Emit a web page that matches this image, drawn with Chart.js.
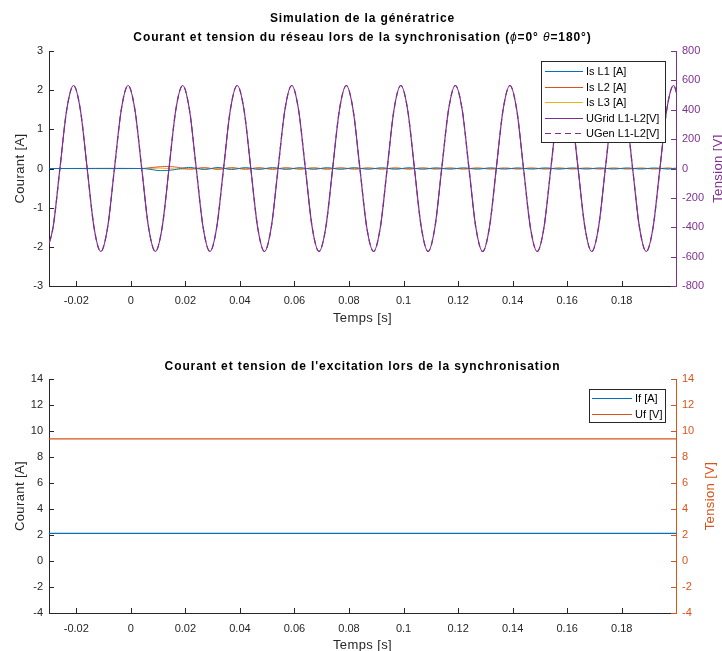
<!DOCTYPE html>
<html>
<head>
<meta charset="utf-8">
<script src="https://cdn.jsdelivr.net/npm/chart.js@4.4.0/dist/chart.umd.min.js"></script>
<style>
  html, body { margin: 0; padding: 0; background: #fff; }
  #wrap { position: relative; width: 722px; height: 651px; overflow: hidden; background: #fff; }
  canvas { position: absolute; left: 0; }
  #top { top: 0; }
  #bottom { top: 340px; }
</style>
</head>
<body>
<div id="wrap">
  <canvas id="top" width="722" height="340"></canvas>
  <canvas id="bottom" width="722" height="311"></canvas>
</div>
<script>
// ---- Grid voltage L1-L2 (V), sampled every 1/8 period ----
const voltTime = [
  -0.031, -0.0285, -0.026, -0.0235, -0.021, -0.0185, -0.016, -0.0135,
  -0.011, -0.0085, -0.006, -0.0035, -0.001, 0.0015, 0.004, 0.0065,
  0.009, 0.0115, 0.014, 0.0165, 0.019, 0.0215, 0.024, 0.0265,
  0.029, 0.0315, 0.034, 0.0365, 0.039, 0.0415, 0.044, 0.0465,
  0.049, 0.0515, 0.054, 0.0565, 0.059, 0.0615, 0.064, 0.0665,
  0.069, 0.0715, 0.074, 0.0765, 0.079, 0.0815, 0.084, 0.0865,
  0.089, 0.0915, 0.094, 0.0965, 0.099, 0.1015, 0.104, 0.1065,
  0.109, 0.1115, 0.114, 0.1165, 0.119, 0.1215, 0.124, 0.1265,
  0.129, 0.1315, 0.134, 0.1365, 0.139, 0.1415, 0.144, 0.1465,
  0.149, 0.1515, 0.154, 0.1565, 0.159, 0.1615, 0.164, 0.1665,
  0.169, 0.1715, 0.174, 0.1765, 0.179, 0.1815, 0.184, 0.1865,
  0.189, 0.1915, 0.194, 0.1965, 0.199, 0.2015
];
const uGrid = [
  -565, -400, 0, 400, 565, 400, 0, -400,
  -565, -400, 0, 400, 565, 400, 0, -400,
  -565, -400, 0, 400, 565, 400, 0, -400,
  -565, -400, 0, 400, 565, 400, 0, -400,
  -565, -400, 0, 400, 565, 400, 0, -400,
  -565, -400, 0, 400, 565, 400, 0, -400,
  -565, -400, 0, 400, 565, 400, 0, -400,
  -565, -400, 0, 400, 565, 400, 0, -400,
  -565, -400, 0, 400, 565, 400, 0, -400,
  -565, -400, 0, 400, 565, 400, 0, -400,
  -565, -400, 0, 400, 565, 400, 0, -400,
  -565, -400, 0, 400, 565, 400
];
// Generator voltage L1-L2 (V), superposed on the grid voltage
const uGen = [
  -565, -400, 0, 400, 565, 400, 0, -400,
  -565, -400, 0, 400, 565, 400, 0, -400,
  -565, -400, 0, 400, 565, 400, 0, -400,
  -565, -400, 0, 400, 565, 400, 0, -400,
  -565, -400, 0, 400, 565, 400, 0, -400,
  -565, -400, 0, 400, 565, 400, 0, -400,
  -565, -400, 0, 400, 565, 400, 0, -400,
  -565, -400, 0, 400, 565, 400, 0, -400,
  -565, -400, 0, 400, 565, 400, 0, -400,
  -565, -400, 0, 400, 565, 400, 0, -400,
  -565, -400, 0, 400, 565, 400, 0, -400,
  -565, -400, 0, 400, 565, 400
];

// ---- Stator currents (A) ----
const curTime = [
  -0.03, 0.004, 0.007, 0.010, 0.013, 0.016, 0.019, 0.022, 0.027, 0.032,
  0.037, 0.042, 0.047, 0.052, 0.057, 0.062, 0.067, 0.072, 0.077, 0.082,
  0.087, 0.092, 0.097, 0.102, 0.107, 0.112, 0.117, 0.122, 0.127, 0.132,
  0.137, 0.142, 0.147, 0.152, 0.157, 0.162, 0.167, 0.172, 0.177, 0.182,
  0.187, 0.192, 0.197, 0.2
];
const isL1 = [
  0, 0, -0.02, -0.05, -0.05, -0.03, 0.01, 0.025, -0.025, 0.025,
  -0.025, 0.022, -0.022, 0.022, -0.022, 0.02, -0.02, 0.02, -0.02, 0.02,
  -0.018, 0.018, -0.018, 0.018, -0.018, 0.016, -0.016, 0.016, -0.016, 0.016,
  -0.015, 0.015, -0.015, 0.015, -0.015, 0.014, -0.014, 0.014, -0.014, 0.014,
  -0.013, 0.013, -0.013, 0.012
];
const isL2 = [
  0, 0, 0.02, 0.04, 0.05, 0.04, 0.01, -0.015, 0.022, -0.022,
  0.022, -0.02, 0.02, -0.02, 0.02, -0.018, 0.018, -0.018, 0.018, -0.016,
  0.016, -0.016, 0.016, -0.016, 0.016, -0.015, 0.015, -0.015, 0.015, -0.015,
  0.014, -0.014, 0.014, -0.014, 0.014, -0.013, 0.013, -0.013, 0.013, -0.013,
  0.012, -0.012, 0.012, -0.012
];
const isL3 = [
  0, 0, 0, 0.01, 0, -0.01, -0.02, -0.01, 0.003, -0.003,
  0.003, -0.002, 0.002, -0.002, 0.002, -0.002, 0.002, -0.002, 0.002, -0.004,
  0.002, -0.002, 0.002, -0.002, 0.002, -0.001, 0.001, -0.001, 0.001, -0.001,
  0.001, -0.001, 0.001, -0.001, 0.001, -0.001, 0.001, -0.001, 0.001, -0.001,
  0.001, -0.001, 0.001, 0
];

// ---- Excitation (field) current and voltage ----
const excTime = [-0.03, 0.2];
const ifVals = [2.13, 2.13];
const ufVals = [9.4, 9.4];

// ---- Axis limits ----
const timeLimits = [-0.03, 0.1999];
const currentLimitsTop = [-3, 3];
const voltageLimitsTop = [-800, 800];
const limitsBottom = [-4, 14];

const FONT = "'Liberation Sans', Arial, Helvetica, sans-serif";
const TXT = '#262626';
const BLUE = '#0072BD', ORANGE = '#D95319', YELLOW = '#EDB120', PURPLE = '#7E2F8E';

Chart.defaults.font.family = FONT;
Chart.defaults.font.size = 11;
Chart.defaults.color = TXT;

const pts = (xs, ys) => xs.map((x, i) => ({ x, y: ys[i] }));
const fmtTime = v => { const r = Math.round(v * 100) / 100; return r === 0 ? '0' : String(r); };

// Titles, axis titles, inward tick marks and a boxed legend
const decor = {
  id: 'decor',
  afterDatasetsDraw(chart) {
    const ctx = chart.ctx, a = chart.chartArea;
    ctx.save();
    Object.values(chart.scales).forEach(s => {
      ctx.strokeStyle = s.options.border.color; ctx.lineWidth = 1;
      ctx.beginPath();
      s.ticks.forEach(t => {
        const p = Math.round(s.getPixelForValue(t.value)) + 0.5;
        if (s.axis === 'x') { ctx.moveTo(p, a.bottom); ctx.lineTo(p, a.bottom - 5); }
        else if (s.position === 'left') { ctx.moveTo(a.left, p); ctx.lineTo(a.left + 5, p); }
        else { ctx.moveTo(a.right, p); ctx.lineTo(a.right - 5, p); }
      });
      ctx.stroke();
    });
    ctx.restore();
  },
  afterDraw(chart, args, o) {
    const ctx = chart.ctx, a = chart.chartArea;
    const cx = (a.left + a.right) / 2, cy = (a.top + a.bottom) / 2;
    ctx.save();
    ctx.textBaseline = 'middle';
    // titles (segments allow italic Greek symbols)
    ctx.letterSpacing = '0.9px';
    (o.titles || []).forEach(line => {
      let w = 0;
      line.parts.forEach(p => { ctx.font = p.font; w += ctx.measureText(p.t).width; });
      let x = cx - w / 2;
      ctx.fillStyle = '#000'; ctx.textAlign = 'left';
      line.parts.forEach(p => { ctx.font = p.font; ctx.fillText(p.t, x, line.y); x += ctx.measureText(p.t).width; });
    });
    // axis titles
    ctx.letterSpacing = '0.4px';
    ctx.font = '13px ' + FONT;
    ctx.textAlign = 'center';
    if (o.xTitle) { ctx.fillStyle = TXT; ctx.fillText(o.xTitle.text, cx, o.xTitle.y); }
    [o.leftTitle, o.rightTitle].forEach(t => {
      if (!t) return;
      ctx.save();
      ctx.translate(t.x, cy);
      ctx.rotate(-Math.PI / 2);
      ctx.fillStyle = t.color;
      ctx.fillText(t.text, 0, 0);
      ctx.restore();
    });
    ctx.letterSpacing = '0px';
    // legend
    const L = o.legend;
    if (L) {
      ctx.fillStyle = '#fff';
      ctx.fillRect(L.x, L.y, L.w, L.h);
      ctx.strokeStyle = TXT; ctx.lineWidth = 1;
      ctx.strokeRect(L.x + 0.5, L.y + 0.5, L.w, L.h);
      ctx.font = '11px ' + FONT;
      ctx.textAlign = 'left';
      chart.data.datasets.forEach((ds, i) => {
        const y = Math.round(L.y + L.first + i * L.rowH) + 0.5;
        ctx.strokeStyle = ds.borderColor;
        ctx.lineWidth = 1;
        ctx.setLineDash(ds.borderDash || []);
        ctx.beginPath(); ctx.moveTo(L.x + L.lineFrom, y); ctx.lineTo(L.x + L.lineTo, y); ctx.stroke();
        ctx.setLineDash([]);
        ctx.fillStyle = '#000';
        ctx.fillText(ds.label, L.x + L.lineTo + 3, y);
      });
    }
    ctx.restore();
  }
};

function axis(pos, lim, step, color, width) {
  return {
    type: 'linear', position: pos, min: lim[0], max: lim[1],
    grid: { display: false, drawTicks: false },
    border: { display: true, color: color, width: 1 },
    ticks: { stepSize: step, padding: 6, color: color, font: { size: 11 } },
    afterFit: s => { s.width = width; }
  };
}
function timeAxis(height, pad) {
  return {
    type: 'linear', position: 'bottom', min: timeLimits[0], max: timeLimits[1],
    grid: { display: false, drawTicks: false },
    border: { display: true, color: TXT, width: 1 },
    ticks: { stepSize: 0.02, includeBounds: false, padding: pad, color: TXT, callback: fmtTime },
    afterFit: s => { s.height = height; }
  };
}

// ---- Top chart: grid currents and voltages ----
new Chart(document.getElementById('top'), {
  type: 'line',
  data: {
    datasets: [
      { label: 'Is L1 [A]', data: pts(curTime, isL1), yAxisID: 'y', borderColor: BLUE, borderWidth: 1, tension: 0.4, order: 2 },
      { label: 'Is L2 [A]', data: pts(curTime, isL2), yAxisID: 'y', borderColor: ORANGE, borderWidth: 1, tension: 0.4, order: 3 },
      { label: 'Is L3 [A]', data: pts(curTime, isL3), yAxisID: 'y', borderColor: YELLOW, borderWidth: 1, tension: 0.4, order: 4 },
      { label: 'UGrid L1-L2[V]', data: pts(voltTime, uGrid), yAxisID: 'y1', borderColor: PURPLE, borderWidth: 1.2, cubicInterpolationMode: 'monotone', order: 0 },
      { label: 'UGen L1-L2[V]', data: pts(voltTime, uGen), yAxisID: 'y1', borderColor: PURPLE, borderWidth: 1.2, borderDash: [6, 4], cubicInterpolationMode: 'monotone', order: 1 }
    ]
  },
  options: {
    responsive: false, animation: false, devicePixelRatio: 1,
    elements: { point: { radius: 0 } },
    layout: { padding: { top: 51, left: 0, right: 0, bottom: 0 } },
    plugins: {
      legend: { display: false }, tooltip: { enabled: false },
      decor: {
        titles: [
          { y: 19, parts: [{ t: 'Simulation de la génératrice', font: 'bold 12px ' + FONT }] },
          { y: 38, parts: [
            { t: 'Courant et tension du réseau lors de la synchronisation (', font: 'bold 12px ' + FONT },
            { t: 'ϕ', font: 'italic 12px ' + FONT },
            { t: '=0° ', font: 'bold 12px ' + FONT },
            { t: 'θ', font: 'italic 12px ' + FONT },
            { t: '=180°)', font: 'bold 12px ' + FONT }
          ] }
        ],
        xTitle: { text: 'Temps [s]', y: 318 },
        leftTitle: { text: 'Courant [A]', x: 20, color: TXT },
        rightTitle: { text: 'Tension [V]', x: 718, color: PURPLE },
        legend: { x: 541, y: 61, w: 124, h: 81, first: 10, rowH: 15.6, lineFrom: 4, lineTo: 42 }
      }
    },
    scales: {
      x: timeAxis(54, 8),
      y: axis('left', currentLimitsTop, 1, TXT, 49),
      y1: axis('right', voltageLimitsTop, 200, PURPLE, 46)
    }
  },
  plugins: [decor]
});

// ---- Bottom chart: excitation current and voltage ----
new Chart(document.getElementById('bottom'), {
  type: 'line',
  data: {
    datasets: [
      { label: 'If [A]', data: pts(excTime, ifVals), yAxisID: 'y', borderColor: BLUE, borderWidth: 1.2 },
      { label: 'Uf [V]', data: pts(excTime, ufVals), yAxisID: 'y1', borderColor: ORANGE, borderWidth: 1.2 }
    ]
  },
  options: {
    responsive: false, animation: false, devicePixelRatio: 1,
    elements: { point: { radius: 0 } },
    layout: { padding: { top: 39, left: 0, right: 0, bottom: 0 } },
    plugins: {
      legend: { display: false }, tooltip: { enabled: false },
      decor: {
        titles: [
          { y: 27, parts: [{ t: "Courant et tension de l'excitation lors de la synchronisation", font: 'bold 12px ' + FONT }] }
        ],
        xTitle: { text: 'Temps [s]', y: 305 },
        leftTitle: { text: 'Courant [A]', x: 20, color: TXT },
        rightTitle: { text: 'Tension [V]', x: 710, color: ORANGE },
        legend: { x: 589, y: 49, w: 76, h: 33, first: 9, rowH: 16, lineFrom: 3, lineTo: 43 }
      }
    },
    scales: {
      x: timeAxis(38, 9),
      y: axis('left', limitsBottom, 2, TXT, 49),
      y1: axis('right', limitsBottom, 2, ORANGE, 46)
    }
  },
  plugins: [decor]
});
</script>
</body>
</html>
